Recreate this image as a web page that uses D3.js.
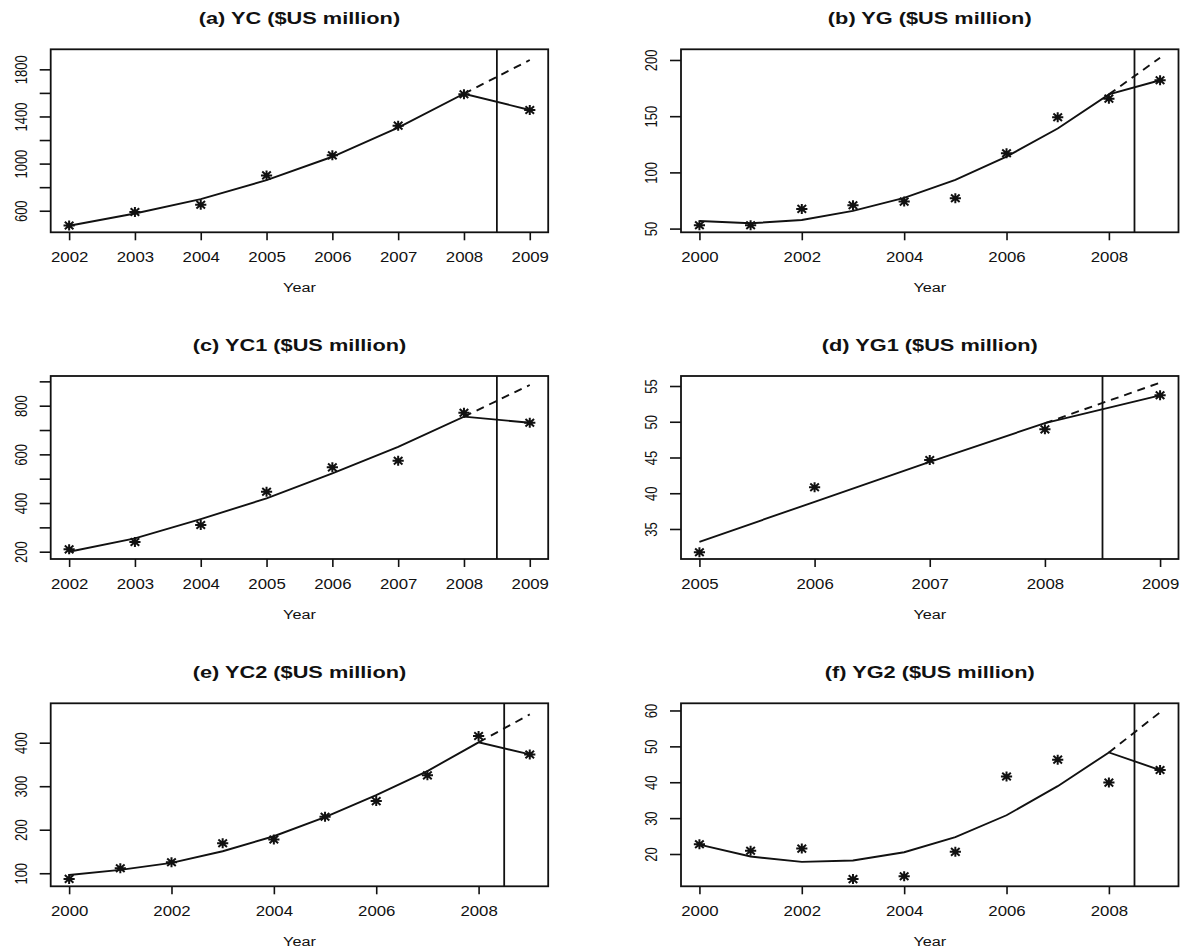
<!DOCTYPE html>
<html>
<head>
<meta charset="utf-8">
<script src="https://cdn.jsdelivr.net/npm/d3@7"></script>
<style>
body { margin: 0; background: #fff; }
text { font-family: "Liberation Sans", Arial, Helvetica, sans-serif; fill: #111; }
</style>
</head>
<body>
<div id="chart"></div>
<script>
// ---- data ----
const yearsA = [2002, 2003, 2004, 2005, 2006, 2007, 2008, 2009]
const yearsB = [2000, 2001, 2002, 2003, 2004, 2005, 2006, 2007, 2008, 2009]
const yearsD = [2005, 2006, 2007, 2008, 2009]

const ycActual = [475, 589, 651, 900, 1070, 1322, 1588, 1455]
const ycFitted = [473, 577, 699, 860, 1058, 1305, 1593, 1455]
const ycForecast = [1593, 1879]

const ygActual = [53, 53, 67.5, 70.7, 74, 77, 117, 149, 165.6, 182]
const ygFitted = [56.8, 54.7, 57.7, 65.7, 77.3, 93.3, 114, 139, 169.4, 182]
const ygForecast = [169.4, 202]

const yc1Actual = [209.6, 240, 309.6, 446.6, 546.6, 574, 771, 730]
const yc1Fitted = [200, 255, 334, 419, 522, 631, 755, 730]
const yc1Forecast = [755, 885]

const yg1Actual = [31.74, 40.83, 44.65, 48.94, 53.7]
const yg1Fitted = [33.2, 38.8, 44.4, 49.8, 53.7]
const yg1Forecast = [49.8, 55.47]

const yc2Actual = [87, 111.5, 125.3, 169, 177.5, 229.7, 265.8, 324.9, 415.4, 373]
const yc2Fitted = [96, 107.7, 123.8, 150.6, 185, 229, 279.6, 334.8, 400.8, 373]
const yc2Forecast = [400.8, 465]

const yg2Actual = [22.7, 20.9, 21.5, 13.0, 13.8, 20.6, 41.6, 46.3, 39.9, 43.4]
const yg2Fitted = [22.6, 19.3, 17.8, 18.2, 20.5, 24.7, 30.8, 38.9, 48.3, 43.4]
const yg2Forecast = [48.3, 59.5]

const titles = ["(a) YC ($US million)", "(b) YG ($US million)", "(c) YC1 ($US million)",
                "(d) YG1 ($US million)", "(e) YC2 ($US million)", "(f) YG2 ($US million)"]

// tick values
const xTicksA = [2002, 2003, 2004, 2005, 2006, 2007, 2008, 2009]
const xTicksB = [2000, 2002, 2004, 2006, 2008]
const xTicksD = [2005, 2006, 2007, 2008, 2009]
const yTicksA = [600, 800, 1000, 1200, 1400, 1600, 1800], yLabelsA = [600, 1000, 1400, 1800]
const yTicksB = [50, 100, 150, 200]
const yTicksC = [200, 300, 400, 500, 600, 700, 800, 900], yLabelsC = [200, 400, 600, 800]
const yTicksD = [35, 40, 45, 50, 55]
const yTicksE = [100, 200, 300, 400]
const yTicksF = [20, 30, 40, 50, 60]
const cutYear = 2008.5

// ---- layout ----
const width = 1187, height = 951
const colX = [50.7, 681], rowY = [49.3, 376, 703.3]
const boxW = 497.5, boxH = 183
const sx = 1.2   // the picture is a bit stretched sideways

const panels = [
  {title: titles[0], years: yearsA, actual: ycActual, fitted: ycFitted, forecast: ycForecast,
   xTicks: xTicksA, yDomain: [417, 1970], yTicks: yTicksA, yLabels: yLabelsA, col: 0, row: 0},
  {title: titles[1], years: yearsB, actual: ygActual, fitted: ygFitted, forecast: ygForecast,
   xTicks: xTicksB, yDomain: [46.7, 209.5], yTicks: yTicksB, yLabels: yTicksB, col: 1, row: 0},
  {title: titles[2], years: yearsA, actual: yc1Actual, fitted: yc1Fitted, forecast: yc1Forecast,
   xTicks: xTicksA, yDomain: [170, 922], yTicks: yTicksC, yLabels: yLabelsC, col: 0, row: 1},
  {title: titles[3], years: yearsD, actual: yg1Actual, fitted: yg1Fitted, forecast: yg1Forecast,
   xTicks: xTicksD, yDomain: [30.8, 56.4], yTicks: yTicksD, yLabels: yTicksD, col: 1, row: 1},
  {title: titles[4], years: yearsB, actual: yc2Actual, fitted: yc2Fitted, forecast: yc2Forecast,
   xTicks: xTicksB, yDomain: [70, 490.5], yTicks: yTicksE, yLabels: yTicksE, col: 0, row: 2},
  {title: titles[5], years: yearsB, actual: yg2Actual, fitted: yg2Fitted, forecast: yg2Forecast,
   xTicks: xTicksB, yDomain: [11, 62], yTicks: yTicksF, yLabels: yTicksF, col: 1, row: 2}
]

// R-style asterisk (pch = 8)
const asterisk = "M-5.6,0H5.6M0,-5V5M-4.3,-3.8L4.3,3.8M-4.3,3.8L4.3,-3.8"

const svg = d3.select("#chart").append("svg")
  .attr("width", width)
  .attr("height", height)
  .attr("viewBox", [0, 0, width, height])

panels.forEach(p => {
  const g = svg.append("g")
    .attr("transform", `translate(${colX[p.col]},${rowY[p.row]})`)

  const ext = d3.extent(p.years)
  const pad = (ext[1] - ext[0]) * 0.04
  const x = d3.scaleLinear().domain([ext[0] - pad, ext[1] + pad]).range([0, boxW])
  const y = d3.scaleLinear().domain(p.yDomain).range([boxH, 0])

  // x axis
  const xAxis = g.append("g")
    .attr("transform", `translate(0,${boxH})`)
    .call(d3.axisBottom(x).tickValues(p.xTicks).tickSize(8).tickSizeOuter(0).tickFormat(d3.format("d")))
  xAxis.select(".domain").remove()
  xAxis.selectAll("line").attr("stroke", "#111").attr("stroke-width", 1.6)
  xAxis.selectAll("text")
    .attr("y", null).attr("dy", null)
    .attr("font-size", 14)
    .attr("fill", "#1a1a1a")
    .attr("transform", `translate(0,29.5) scale(${sx},1)`)
  xAxis.attr("font-family", null)

  // y axis
  const yAxis = g.append("g")
    .call(d3.axisLeft(y).tickValues(p.yTicks).tickSize(11).tickSizeOuter(0)
      .tickFormat(d => p.yLabels.includes(d) ? d : ""))
  yAxis.select(".domain").remove()
  yAxis.selectAll("line").attr("stroke", "#111").attr("stroke-width", 1.6)
  yAxis.selectAll("text")
    .attr("x", null).attr("dy", null)
    .attr("text-anchor", "middle")
    .attr("font-size", 13)
    .attr("fill", "#1a1a1a")
    .attr("transform", `translate(-24,0) scale(${sx},1) rotate(-90)`)
  yAxis.attr("font-family", null)

  // box
  g.append("rect")
    .attr("width", boxW)
    .attr("height", boxH)
    .attr("fill", "none")
    .attr("stroke", "#111")
    .attr("stroke-width", 1.8)

  // cut-off line
  g.append("line")
    .attr("x1", x(cutYear)).attr("x2", x(cutYear))
    .attr("y1", 0).attr("y2", boxH)
    .attr("stroke", "#111")
    .attr("stroke-width", 1.8)

  const line = d3.line().x(d => x(d[0])).y(d => y(d[1]))
  const n = p.years.length

  // fitted (solid)
  g.append("path")
    .datum(p.years.map((yr, i) => [yr, p.fitted[i]]))
    .attr("d", line)
    .attr("fill", "none")
    .attr("stroke", "#111")
    .attr("stroke-width", 1.9)

  // trend forecast (dashed)
  g.append("path")
    .datum([[p.years[n - 2], p.forecast[0]], [p.years[n - 1], p.forecast[1]]])
    .attr("d", line)
    .attr("fill", "none")
    .attr("stroke", "#111")
    .attr("stroke-width", 1.9)
    .attr("stroke-dasharray", "8,6")

  // observed values
  g.selectAll(".pt")
    .data(p.years.map((yr, i) => [yr, p.actual[i]]))
    .enter().append("path")
    .attr("class", "pt")
    .attr("d", asterisk)
    .attr("transform", d => `translate(${x(d[0])},${y(d[1])})`)
    .attr("fill", "none")
    .attr("stroke", "#111")
    .attr("stroke-width", 2)

  // title
  g.append("text")
    .text(p.title)
    .attr("text-anchor", "middle")
    .attr("font-weight", "bold")
    .attr("font-size", 17)
    .attr("transform", `translate(${boxW / 2},-25.5) scale(1.28,1)`)

  // x label
  g.append("text")
    .text("Year")
    .attr("text-anchor", "middle")
    .attr("font-size", 13.5)
    .attr("fill", "#1a1a1a")
    .attr("transform", `translate(${boxW / 2},${boxH + 60}) scale(${sx},1)`)
})
</script>
</body>
</html>
